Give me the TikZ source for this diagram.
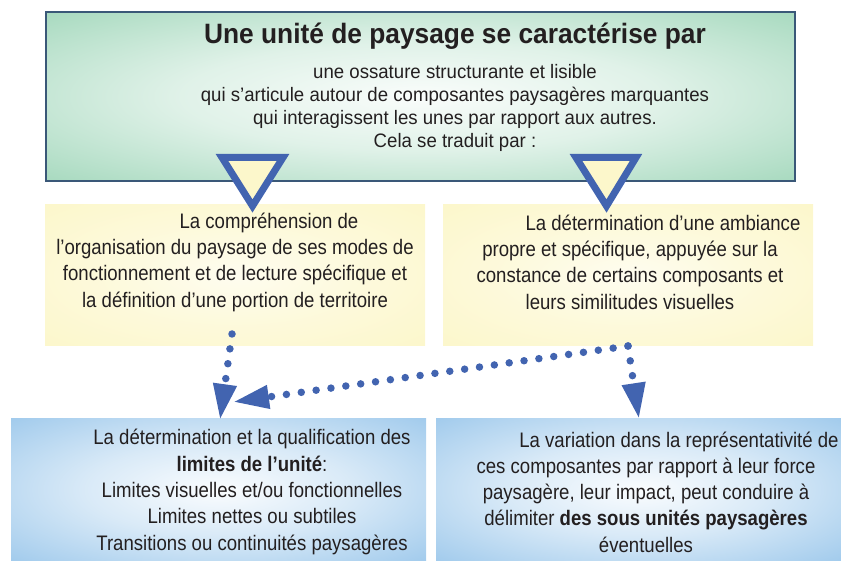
\documentclass[tikz,border=0pt]{standalone}
\usepackage{fontspec}
\setmainfont{Liberation Sans}[FakeStretch=0.885]
\newfontfamily\topfont{Liberation Sans}[FakeStretch=0.955]
\newfontfamily\titlefont{Liberation Sans}[FakeStretch=0.94]
\usetikzlibrary{arrows.meta}
\definecolor{tgreen}{RGB}{166,217,190}
\definecolor{tyellow}{RGB}{252,247,203}
\definecolor{tblue}{RGB}{160,202,236}
\definecolor{tborder}{RGB}{58,88,120}
\definecolor{tarrow}{RGB}{66,100,176}
\definecolor{ttext}{RGB}{35,31,32}
\pgfdeclareradialshading{glowgreen}{\pgfpoint{0bp}{0bp}}{color(0bp)=(tgreen!6!white); color(16bp)=(tgreen!35!white); color(36bp)=(tgreen); color(50bp)=(tgreen)}
\pgfdeclareradialshading{glowyellow}{\pgfpoint{0bp}{0bp}}{color(0bp)=(tyellow!30!white); color(18bp)=(tyellow!70!white); color(36bp)=(tyellow); color(50bp)=(tyellow)}
\pgfdeclareradialshading{glowblue}{\pgfpoint{0bp}{0bp}}{color(0bp)=(tblue!5!white); color(16bp)=(tblue!40!white); color(36bp)=(tblue); color(50bp)=(tblue)}
\begin{document}
\begin{tikzpicture}[x=1pt,y=-1pt,
  panel/.style={shade, inner sep=0pt, outer sep=0pt},
  body/.style={text=ttext, align=center, inner sep=0pt, font=\fontsize{21}{26.3}\selectfont},
  tri/.style={draw=tarrow, fill=tyellow, line width=7pt, line join=miter},
  dots/.style={draw=tarrow, line width=7.5pt, line cap=round, dash pattern=on 0pt off 15pt,
    -{Triangle[length=36pt,width=22pt]}}
]
\useasboundingbox (0,0) rectangle (841,561);
% panels
\node[panel, shading=glowgreen, draw=tborder, line width=1.6pt, minimum width=749pt, minimum height=169pt] (top) at (420.5,96.5) {};
\node[panel, shading=glowyellow, minimum width=380pt, minimum height=141pt] (yl) at (235,275.5) {};
\node[panel, shading=glowyellow, minimum width=370pt, minimum height=141pt] (yr) at (628,275.5) {};
\node[panel, shading=glowblue, minimum width=415pt, minimum height=143pt] (bl) at (218.5,489.5) {};
\node[panel, shading=glowblue, minimum width=405pt, minimum height=143pt] (br) at (638.5,489.5) {};
% texts
\node[text=ttext, inner sep=0pt, font=\titlefont\fontsize{28}{32}\selectfont\bfseries] (title) at (455,36) {Une unité de paysage se caractérise par};
\node[body, font=\topfont\fontsize{19.5}{23}\selectfont] (topt) at (455,108) {une ossature structurante et lisible\\
qui s’articule autour de composantes paysagères marquantes\\
qui interagissent les unes par rapport aux autres.\\
Cela se traduit par :};
\node[body] (ylt) at (235,262) {\hspace*{68pt}La compréhension de\\
l’organisation du paysage de ses modes de\\
fonctionnement et de lecture spécifique et\\
la définition d’une portion de territoire};
\node[body] (yrt) at (630,262) {\hspace*{66pt}La détermination d’une ambiance\\
propre et spécifique, appuyée sur la\\
constance de certains composants et\\
leurs similitudes visuelles};
\node[body] (blt) at (252,492) {La détermination et la qualification des\\
{\bfseries limites de l’unité}:\hspace*{64pt}\\
Limites visuelles et/ou fonctionnelles\\
Limites nettes ou subtiles\\
Transitions ou continuités paysagères};
\node[body] (brt) at (646,492) {\hspace*{66pt}La variation dans la représentativité de\\
ces composantes par rapport à leur force\\
paysagère, leur impact, peut conduire à\\
délimiter {\bfseries des sous unités paysagères}\\
éventuelles};
% triangles
\draw[tri] (222,157.5) -- (283,157.5) -- (252.5,206) -- cycle;
\draw[tri] (576,157.5) -- (636,157.5) -- (606.5,206) -- cycle;
% dotted arrows
\coordinate (s1) at (232,334);
\coordinate (e1) at (220,420);
\coordinate (s2) at (628,346);
\coordinate (e2) at (233,402);
\coordinate (e3) at (639,419);
\draw[dots] (s1) -- (e1);
\draw[dots] (s2) -- (e2);
\draw[dots] (s2) -- (e3);
\end{tikzpicture}
\end{document}
